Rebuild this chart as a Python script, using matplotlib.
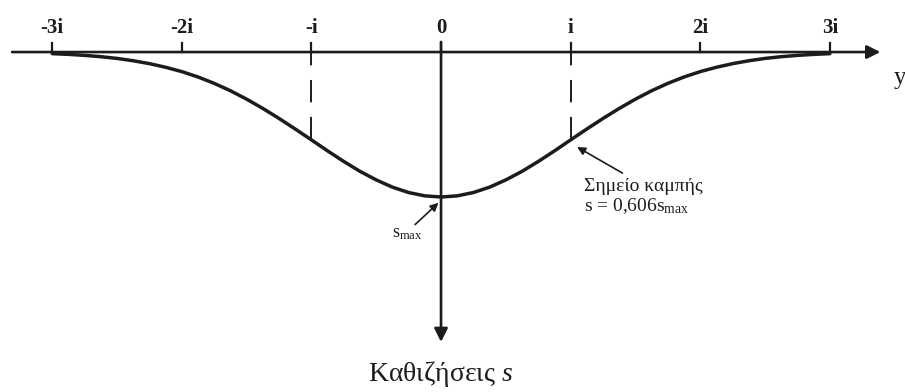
import matplotlib.pyplot as plt

plt.rcParams['font.family'] = ['Liberation Serif', 'DejaVu Serif']
plt.rcParams['mathtext.fontset'] = 'custom'
plt.rcParams['mathtext.rm'] = 'Liberation Serif'
plt.rcParams['mathtext.it'] = 'Liberation Serif:italic'

# half profile of the trough: distance from centre (units of i) and s / s_max
half_pos = [0.0, 0.125, 0.25, 0.375, 0.5, 0.625, 0.75, 0.875, 1.0, 1.125, 1.25, 1.375,
            1.5, 1.625, 1.75, 1.875, 2.0, 2.125, 2.25, 2.375, 2.5, 2.625, 2.75, 2.875, 3.0]
half_settle = [1.000, 0.992, 0.969, 0.932, 0.882, 0.823, 0.755, 0.682, 0.606, 0.531, 0.458,
               0.389, 0.325, 0.267, 0.216, 0.172, 0.135, 0.105, 0.080, 0.060, 0.044, 0.032,
               0.023, 0.016, 0.011]

tick_pos = [-3, -2, -1, 0, 1, 2, 3]
tick_labels = ['-3i', '-2i', '-i', '0', 'i', '2i', '3i']
inflection = 0.606

# symmetric trough
y_pos = [-p for p in half_pos[:0:-1]] + half_pos
settle = half_settle[:0:-1] + half_settle

ink = '#1c1c1c'

fig = plt.figure(figsize=(9.05, 3.92), dpi=100)
ax = fig.add_axes([0, 0, 1, 1])
ax.set_xlim(-3.403, 3.580)
ax.set_ylim(-2.345, 0.359)
ax.axis('off')

# horizontal axis y
ax.annotate('', xy=(3.39, 0), xytext=(-3.31, 0),
            arrowprops=dict(arrowstyle='-|>', lw=1.9, color=ink, mutation_scale=20,
                            shrinkA=0, shrinkB=0))
# vertical axis (settlements)
ax.annotate('', xy=(0, -2.0), xytext=(0, 0.07),
            arrowprops=dict(arrowstyle='-|>', lw=1.9, color=ink, mutation_scale=20,
                            shrinkA=0, shrinkB=0))

for t, lab in zip(tick_pos, tick_labels):
    ax.plot([t, t], [0, 0.06], color=ink, lw=1.6)
    ax.text(t, 0.165, lab, ha='center', va='center', fontsize=15,
            fontweight='bold', color=ink)

# settlement trough
ax.plot(y_pos, [-s for s in settle], color=ink, lw=2.5, solid_capstyle='round')

# inflection points at +/- i
for t in (-1, 1):
    ax.plot([t, t], [0.062, -inflection], color=ink, lw=1.4, dashes=(11.5, 7.5))

ax.text(3.495, -0.18, 'y', ha='left', va='center', fontsize=18, color=ink)

ax.annotate('', xy=(1.05, -0.655), xytext=(1.40, -0.835),
            arrowprops=dict(arrowstyle='-|>', lw=1.2, color=ink, mutation_scale=12,
                            shrinkA=0, shrinkB=0))
ax.text(1.10, -0.925, 'Σημείο καμπής', ha='left', va='center', fontsize=14, color=ink)
ax.text(1.10, -1.06, 's = 0,606s$_{\\mathrm{max}}$', ha='left', va='center',
        fontsize=14, color=ink)

ax.annotate('', xy=(-0.02, -1.04), xytext=(-0.20, -1.19),
            arrowprops=dict(arrowstyle='-|>', lw=1.2, color=ink, mutation_scale=12,
                            shrinkA=0, shrinkB=0))
ax.text(-0.26, -1.25, 's$_{\\mathrm{max}}$', ha='center', va='center', fontsize=13,
        color=ink)

ax.text(0, -2.22, 'Καθιζήσεις $\\mathit{s}$', ha='center', va='center', fontsize=20,
        color=ink)

plt.savefig('out.png', dpi=100, facecolor='white')
